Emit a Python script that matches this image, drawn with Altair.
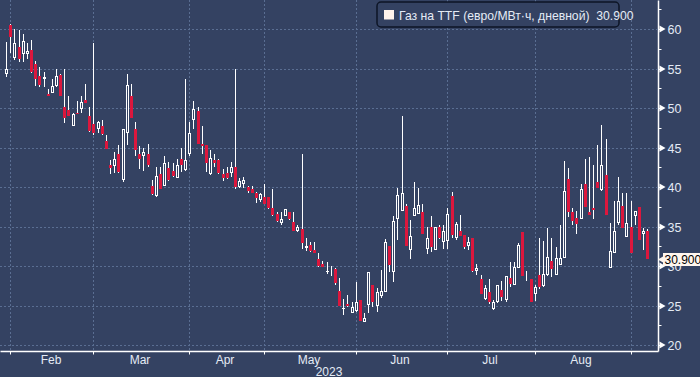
import altair as alt
import pandas as pd

# ---- data (trading-day index k: 0 = 31 Jan 2023 ... 154 = 7 Sep 2023) ----
opens = [54.3, 60.5, 56.4, 57.7, 56.9, 56.9, 57.4, 55.6, 54.1, 53.7,
         51.8, 51.9, 52.8, 54.2, 50.1, 49.8, 47.8, 49.4, 49.9, 51.0,
         49.0, 48.0, 47.4, 47.8, 45.9, 42.8, 42.7, 44.2, 40.9, 46.9,
         51.5, 47.4, 44.2, 43.9, 44.2, 40.1, 38.9, 41.7, 40.2, 42.4,
         42.1, 41.2, 43.6, 42.2, 44.2, 48.5, 49.7, 45.4, 45.3, 41.7,
         43.4, 43.4, 41.7, 41.8, 41.8, 42.5, 40.0, 40.4, 40.0, 39.7,
         39.2, 38.4, 38.7, 38.7, 37.4, 36.6, 35.4, 36.4, 36.9, 35.6,
         34.4, 34.7, 32.3, 32.7, 32.0, 30.9, 30.3, 29.2, 29.2, 29.6,
         26.8, 24.5, 25.2, 24.1, 24.3, 25.7, 22.9, 25.1, 27.6, 25.0,
         26.2, 26.7, 32.5, 29.3, 36.0, 37.0, 37.6, 32.0, 36.4, 36.6,
         36.8, 32.2, 35.0, 32.0, 35.0, 33.0, 33.2, 38.9, 33.6, 34.4,
         33.9, 32.6, 33.6, 29.4, 28.3, 25.8, 26.7, 24.5, 25.4, 27.0,
         25.7, 28.5, 27.6, 29.8, 34.3, 28.3, 28.4, 26.4, 28.9, 27.5,
         28.9, 30.7, 28.9, 30.1, 31.0, 41.0, 36.8, 36.1, 36.0, 40.4,
         36.9, 37.3, 40.6, 39.6, 41.5, 29.8, 31.7, 35.4, 37.6, 33.7,
         35.0, 36.3, 37.5, 34.1, 34.4]
highs = [58.4, 60.6, 60.0, 59.9, 59.4, 58.2, 58.6, 56.0, 55.2, 54.6,
         52.4, 53.7, 55.0, 54.3, 55.0, 51.5, 49.4, 50.9, 51.5, 53.0,
         50.1, 58.3, 48.4, 48.5, 46.6, 43.4, 44.4, 45.3, 47.4, 54.3,
         53.1, 48.2, 45.2, 45.0, 45.5, 40.9, 42.6, 42.5, 44.0, 43.2,
         43.1, 43.6, 45.0, 53.7, 48.2, 50.9, 50.1, 47.8, 45.3, 44.7,
         44.2, 43.5, 42.3, 42.5, 43.2, 55.0, 41.2, 41.3, 40.2, 40.1,
         39.4, 39.2, 40.4, 38.8, 39.8, 36.9, 36.9, 37.2, 36.9, 36.9,
         35.2, 44.2, 33.5, 33.1, 33.1, 31.6, 30.7, 30.5, 30.0, 29.8,
         28.5, 25.8, 26.3, 25.5, 28.0, 25.7, 24.1, 29.2, 27.6, 27.2,
         29.5, 33.4, 32.5, 36.3, 39.9, 49.0, 37.8, 35.8, 40.7, 39.9,
         37.9, 35.0, 36.4, 35.0, 35.2, 35.2, 37.4, 39.4, 35.6, 36.5,
         33.9, 33.7, 33.6, 30.3, 28.9, 27.6, 28.3, 25.7, 27.6, 28.1,
         28.7, 30.5, 30.5, 32.9, 34.3, 29.4, 28.4, 27.6, 33.6, 33.2,
         34.8, 33.6, 32.4, 35.2, 43.3, 42.4, 37.3, 37.0, 40.4, 43.6,
         43.8, 42.8, 45.3, 47.9, 46.1, 35.5, 38.2, 41.3, 39.2, 39.2,
         38.2, 37.0, 37.5, 34.8, 34.7]
lows = [54.0, 57.0, 56.1, 55.8, 55.9, 56.2, 54.5, 52.8, 52.7, 52.7,
        51.6, 51.9, 52.7, 51.5, 48.1, 49.0, 47.7, 49.3, 49.4, 50.6,
        47.0, 46.6, 46.9, 46.6, 44.8, 41.6, 41.8, 41.8, 40.7, 45.3,
        48.7, 44.0, 42.3, 42.0, 42.6, 39.0, 38.8, 39.8, 40.1, 40.8,
        41.3, 41.1, 41.9, 42.1, 44.0, 47.3, 45.4, 44.2, 41.9, 41.5,
        42.5, 41.7, 40.8, 41.0, 41.3, 39.8, 39.9, 39.9, 39.3, 39.2,
        38.0, 38.1, 37.8, 37.2, 36.4, 35.6, 35.2, 36.4, 35.8, 34.4,
        34.3, 32.2, 31.9, 31.8, 31.7, 29.9, 29.9, 29.0, 28.8, 27.6,
        25.0, 23.8, 24.8, 24.0, 24.2, 23.0, 22.9, 24.1, 24.8, 24.2,
        26.0, 26.7, 29.3, 28.0, 33.3, 37.0, 32.6, 30.9, 36.3, 36.6,
        34.0, 31.5, 31.8, 32.0, 33.4, 32.2, 32.2, 33.6, 33.3, 33.8,
        32.2, 32.0, 29.3, 28.9, 26.4, 25.7, 25.2, 24.4, 25.3, 25.6,
        25.5, 27.3, 27.6, 29.8, 28.7, 28.1, 25.4, 25.6, 27.1, 27.3,
        28.7, 28.6, 28.9, 30.1, 31.0, 36.2, 35.2, 34.1, 36.0, 37.5,
        36.5, 35.9, 39.9, 39.5, 36.5, 29.8, 31.7, 35.2, 34.8, 33.7,
        31.6, 35.2, 33.3, 32.0, 30.9]
closes = [55.0, 59.0, 58.2, 56.2, 58.5, 57.3, 54.6, 53.7, 52.9, 54.0,
          51.6, 52.8, 54.1, 51.6, 48.8, 49.0, 49.2, 49.3, 50.8, 50.6,
          47.1, 46.9, 48.2, 46.7, 44.8, 42.4, 43.5, 41.9, 47.4, 52.9,
          48.8, 44.7, 43.5, 44.5, 42.8, 39.1, 41.4, 39.8, 43.0, 40.9,
          41.4, 42.8, 42.8, 43.4, 46.9, 49.9, 45.5, 45.2, 43.1, 43.7,
          43.0, 41.8, 41.1, 41.2, 42.6, 40.0, 40.8, 40.9, 39.5, 39.3,
          38.6, 39.1, 37.9, 37.3, 36.5, 35.7, 36.0, 37.2, 35.9, 34.5,
          35.0, 32.9, 32.5, 31.9, 31.7, 30.0, 29.9, 29.4, 29.3, 27.8,
          25.0, 24.7, 25.0, 24.8, 25.5, 23.1, 23.4, 29.2, 25.5, 26.7,
          26.8, 33.0, 30.1, 35.7, 39.0, 39.3, 32.6, 33.8, 37.4, 37.7,
          34.0, 33.5, 32.4, 35.0, 33.6, 34.5, 36.6, 33.9, 35.3, 33.8,
          32.4, 33.1, 29.4, 29.7, 26.4, 27.2, 25.5, 25.5, 27.6, 26.1,
          28.7, 27.7, 29.9, 32.7, 28.7, 28.4, 25.4, 27.3, 27.4, 29.0,
          31.2, 29.6, 31.0, 31.0, 39.5, 36.9, 35.7, 35.3, 39.8, 37.5,
          36.5, 37.1, 39.9, 42.8, 36.5, 31.9, 34.5, 38.2, 34.8, 35.4,
          31.6, 37.0, 33.3, 34.5, 30.9]

month_start_k = [1, 21, 44, 62, 84, 106, 127, 150]
month_names = ["Feb", "Mar", "Apr", "May", "Jun", "Jul", "Aug"]
year_label = "2023"
y_major = [20, 25, 30, 35, 40, 45, 50, 55, 60]
y_all_ticks = [20, 22.5, 25, 27.5, 30, 32.5, 35, 37.5, 40, 42.5, 45, 47.5,
               50, 52.5, 55, 57.5, 60, 62.5]
legend_label = "Газ на TTF (евро/МВт·ч, дневной)\u00a0\u00a030.900"
last_value = closes[-1]

# ---- style ----
BG = "#344262"
GRID = "#5a6e92"
RED = "#dc173d"
TXT = "#e4ebf5"
FONT = "Liberation Sans, Arial, sans-serif"
W, H = 658, 351

df = pd.DataFrame({"k": list(range(len(opens))), "open": opens, "high": highs,
                   "low": lows, "close": closes})
df["up"] = df["close"] >= df["open"]

xs = alt.Scale(domain=[-0.25, 155.4], nice=False, zero=False, round=True)
ys = alt.Scale(domain=[19.24, 63.7], nice=False, zero=False, round=True)

X_AXIS = alt.Axis(values=month_start_k, labels=False, ticks=True, tickSize=3,
                  tickColor="white", domainColor="white", domainWidth=1.5,
                  grid=False, title=None)
Y_AXIS = alt.Axis(orient="right", values=y_all_ticks, tickSize=3, tickColor="white",
                  domainColor="white", domainWidth=1.5, grid=False, title=None,
                  labelExpr="datum.value % 5 == 0 ? datum.label : ''",
                  labelPadding=6, labelFont=FONT, labelFontSize=12.5,
                  labelColor=TXT)


def X(field):
    return alt.X(field, scale=xs, axis=X_AXIS)


def Y(field):
    return alt.Y(field, scale=ys, axis=Y_AXIS)


base = alt.Chart(df)

wicks = base.mark_rule(color="white", strokeWidth=1, clip=True, xOffset=0.5).encode(
    x=X("k:Q"), y=Y("low:Q"), y2="high:Q")

red_bodies = base.transform_filter("!datum.up").mark_bar(
    size=3, color=RED, clip=True, xOffset=0.5).encode(
    x=X("k:Q"), y=Y("open:Q"), y2="close:Q")

white_outer = base.transform_filter("datum.up").mark_bar(
    size=3, color="white", clip=True, xOffset=0.5).encode(
    x=X("k:Q"), y=Y("close:Q"), y2="open:Q")
white_inner = base.transform_filter("datum.up && (datum.close - datum.open) > 0.3").mark_bar(
    size=1, color=BG, clip=True, xOffset=0.5, yOffset=1, y2Offset=-1).encode(
    x=X("k:Q"), y=Y("close:Q"), y2="open:Q")

vgrid = alt.Chart(pd.DataFrame({"k": month_start_k})).mark_rule(
    color=GRID, strokeDash=[2, 2], strokeWidth=1, clip=True, xOffset=0.5).encode(x=X("k:Q"))
hgrid = alt.Chart(pd.DataFrame({"v": y_major})).mark_rule(
    color=GRID, strokeDash=[2, 2], strokeWidth=1, clip=True, yOffset=0.5).encode(y=Y("v:Q"))

tri = alt.Chart(pd.DataFrame({"v": y_major})).mark_point(
    shape="triangle-right", filled=True, color="white", size=50, opacity=1).encode(
    y=Y("v:Q"), x=alt.value(662.5))

mdf = pd.DataFrame({"name": month_names,
                    "mid": [(a + b) / 2 - 0.3 for a, b in zip(month_start_k[:-1], month_start_k[1:])]})
months = alt.Chart(mdf).mark_text(font=FONT, fontSize=12, color=TXT, baseline="alphabetic",
                                  align="center").encode(
    x=X("mid:Q"), y=alt.value(363.5), text="name:N")

one = pd.DataFrame({"lbl": [legend_label], "v": [last_value],
                    "vt": [f"{last_value:.3f}"], "yr": [year_label]})
year = alt.Chart(one).mark_text(font=FONT, fontSize=12, color=TXT, baseline="alphabetic",
                                align="center").encode(
    x=alt.value(329), y=alt.value(375.5), text="yr:N")

leg_box = alt.Chart(one).mark_rect(fill=BG, stroke="#0d1526", strokeWidth=1.5,
                                   cornerRadius=4).encode(
    x=alt.value(377), x2=alt.value(619), y=alt.value(2), y2=alt.value(27))
leg_sq = alt.Chart(one).mark_rect(fill="#fff3ec").encode(
    x=alt.value(384), x2=alt.value(394), y=alt.value(10), y2=alt.value(19.5))
leg_txt = alt.Chart(one).mark_text(font=FONT, fontSize=12.2, color=TXT, align="left",
                                   baseline="alphabetic").encode(
    x=alt.value(399), y=alt.value(19.5), text="lbl:N")

last_box = alt.Chart(one).mark_rect(fill="#fff6ee", yOffset=-6, y2Offset=7).encode(
    x=alt.value(663), x2=alt.value(700), y=Y("v:Q"), y2="v:Q")
last_arrow = alt.Chart(one).mark_point(shape="triangle-left", filled=True, color="#fff6ee",
                                       size=70, opacity=1, yOffset=0.5).encode(
    x=alt.value(661.5), y=Y("v:Q"))
last_txt = alt.Chart(one).mark_text(font=FONT, fontSize=12, color="black", align="left",
                                    baseline="middle", dy=1).encode(
    x=alt.value(664.5), y=Y("v:Q"), text="vt:N")

chart = alt.layer(
    vgrid, hgrid, wicks, red_bodies, white_outer, white_inner, tri, months, year,
    leg_box, leg_sq, leg_txt, last_box, last_arrow, last_txt
).properties(
    width=W, height=H,
    padding={"left": 0, "top": 0, "right": 42, "bottom": 26},
    autosize=alt.AutoSizeParams(type="none"),
    background=BG,
).configure_view(stroke=None, fill=BG)

chart.save("out.html", embed_options={"renderer": "svg", "actions": False})
